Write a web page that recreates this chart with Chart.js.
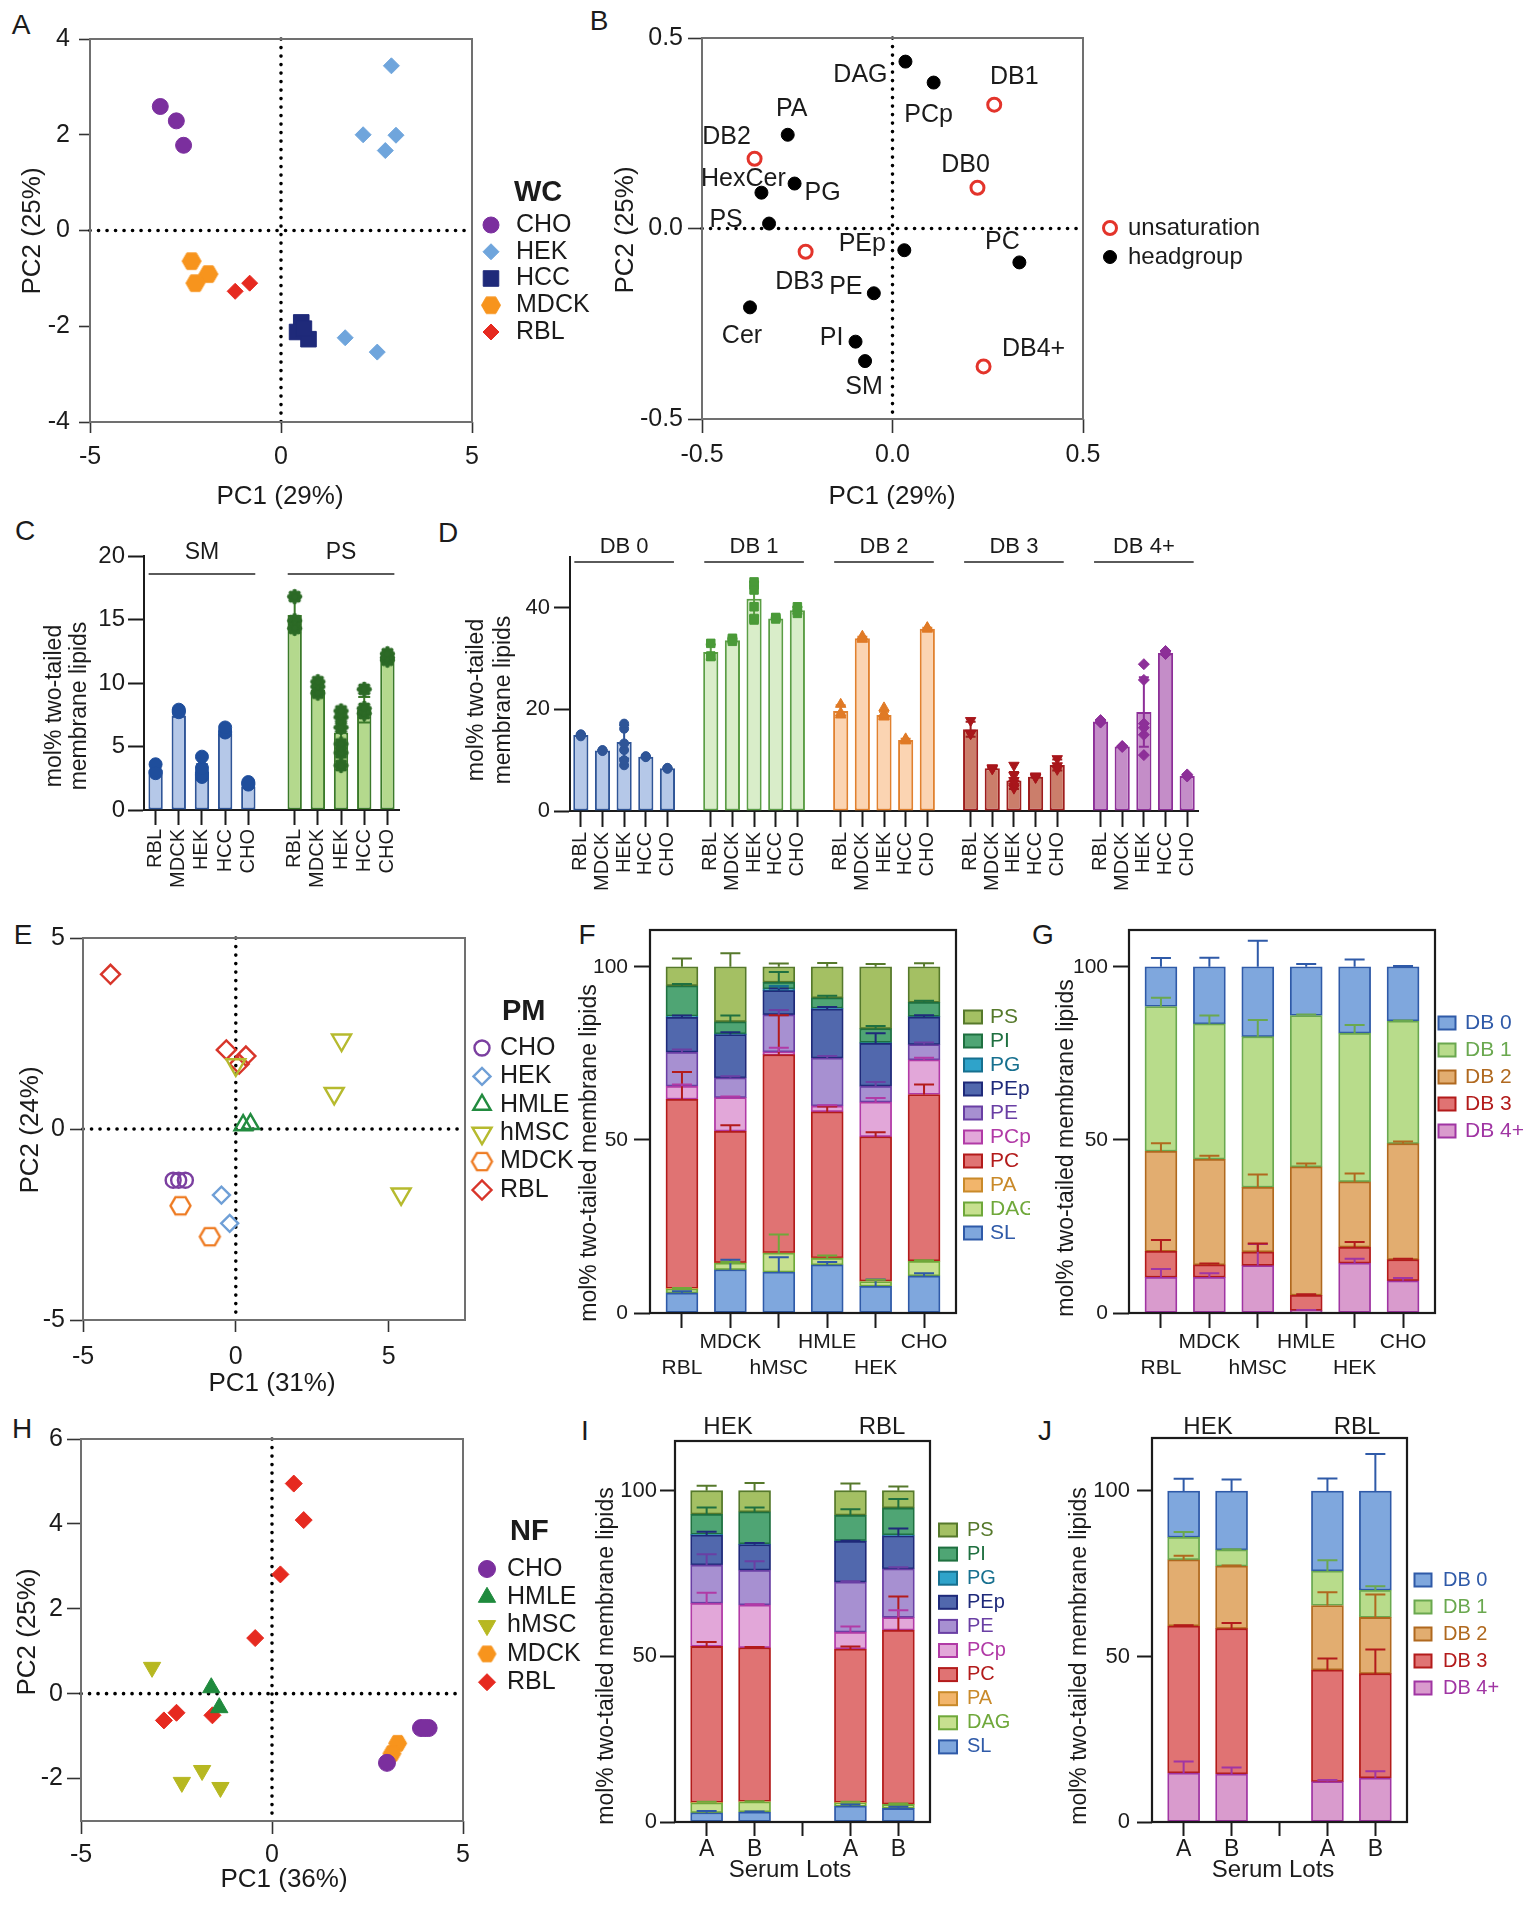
<!DOCTYPE html>
<html>
<head>
<meta charset="utf-8">
<title>Membrane lipidomes</title>
<script src="https://cdn.jsdelivr.net/npm/chart.js@4.4.1/dist/chart.umd.min.js"></script>
<style>
  html, body { margin: 0; background: #fff; }
  #page { position: relative; width: 1529px; height: 1910px; overflow: hidden; background: #fff; }
  #page canvas { position: absolute; }
  .tag { position: absolute; transform: translate(-50%, -50%); font: 28px 'Liberation Sans', Arial, sans-serif; color: #1b1b1b; line-height: 1; }
</style>
</head>
<body>
<div id="page">
  <div class="tag" style="left:21px;top:25px">A</div>
  <div class="tag" style="left:599px;top:21px">B</div>
  <div class="tag" style="left:25px;top:531px">C</div>
  <div class="tag" style="left:448px;top:533px">D</div>
  <div class="tag" style="left:23px;top:935px">E</div>
  <div class="tag" style="left:587px;top:935px">F</div>
  <div class="tag" style="left:1043px;top:935px">G</div>
  <div class="tag" style="left:22px;top:1429px">H</div>
  <div class="tag" style="left:585px;top:1431px">I</div>
  <div class="tag" style="left:1045px;top:1431px">J</div>
</div>
<script>
// ---------------- data ----------------
// A: whole-cell lipidomes, PCA scores [PC1, PC2]
const wcCHO  = [[-3.16, 2.59], [-2.74, 2.29], [-2.55, 1.78]];
const wcHEK  = [[2.89, 3.44], [2.15, 2.00], [3.01, 1.99], [2.73, 1.67], [1.68, -2.24], [2.52, -2.54]];
const wcHCC  = [[0.53, -1.92], [0.42, -2.12], [0.72, -2.27], [0.60, -2.05]];
const wcMDCK = [[-2.34, -0.64], [-1.90, -0.91], [-2.24, -1.10]];
const wcRBL  = [[-1.20, -1.27], [-0.82, -1.10]];
const wcTicksX = [-5, 0, 5];
const wcTicksY = [-4, -2, 0, 2, 4];

// B: loadings
const headNames = ['DAG', 'PCp', 'PA', 'HexCer', 'PG', 'PS', 'PEp', 'PC', 'PE', 'Cer', 'PI', 'SM'];
const headPC1 = [0.034, 0.108, -0.275, -0.344, -0.257, -0.324, 0.031, 0.333, -0.049, -0.374, -0.097, -0.072];
const headPC2 = [0.438, 0.383, 0.246, 0.094, 0.118, 0.013, -0.057, -0.089, -0.170, -0.207, -0.297, -0.348];
const unsatNames = ['DB1', 'DB0', 'DB2', 'DB3', 'DB4+'];
const unsatPC1 = [0.267, 0.223, -0.362, -0.228, 0.239];
const unsatPC2 = [0.325, 0.107, 0.183, -0.061, -0.362];
const loadTicks = [-0.5, 0, 0.5];

// C: SM and PS, mol% two-tailed membrane lipids (bar = mean, dots = replicates)
const cCells = ['RBL', 'MDCK', 'HEK', 'HCC', 'CHO'];
const smMean = [3.15, 7.45, 3.0, 6.05, 1.85];
const smReps = [[2.9, 3.6, 3.0], [7.7, 7.8, 7.9], [4.2, 3.3, 2.8, 3.0, 2.7, 2.6], [6.5, 6.2, 6.1], [2.1, 2.0, 2.2]];
const psMean = [15.35, 9.45, 6.1, 7.9, 11.95];
const psReps = [[16.8, 14.3, 14.9], [10.1, 9.2, 9.7], [7.8, 7.3, 6.5, 5.2, 4.5, 3.5], [9.5, 8.0, 7.6], [12.3, 11.8, 12.0]];
const cTicks = [0, 5, 10, 15, 20];

// D: double bonds per lipid
const dbNames = ['DB 0', 'DB 1', 'DB 2', 'DB 3', 'DB 4+'];
const db0Mean = [14.95, 11.9, 13.6, 10.7, 8.4];
const db0Reps = [[14.7, 15.0, 15.1], [11.8, 12.0, 11.9], [17.2, 16.2, 13.3, 12.0, 10.0, 9.0], [10.6, 10.8, 10.7], [8.3, 8.5, 8.4]];
const db1Mean = [31.3, 33.6, 41.8, 37.9, 39.5];
const db1Reps = [[33.0, 30.4, 30.5], [33.4, 34.0, 33.7], [45.1, 44.5, 43.5, 40.2, 37.9, 37.6], [37.8, 38.0, 38.1], [40.2, 38.9, 39.6]];
const db2Mean = [19.7, 34.0, 18.9, 14.0, 35.9];
const db2Reps = [[21.0, 18.9, 19.3], [34.4, 33.8, 34.0], [20.3, 18.8, 18.6, 19.2, 18.9, 18.5], [14.2, 13.8, 14.0], [36.0, 35.8, 36.1]];
const db3Mean = [16.1, 8.4, 6.0, 6.75, 9.05];
const db3Reps = [[17.8, 15.2, 15.3], [8.5, 8.3, 8.4], [9.0, 7.0, 6.0, 5.5, 4.8, 4.5], [6.9, 6.6, 6.7], [10.3, 8.9, 8.2]];
const db4Mean = [17.6, 12.7, 19.5, 31.1, 6.9];
const db4Reps = [[17.9, 17.4, 17.5], [12.7, 12.6, 12.8], [28.9, 25.8, 17.2, 16.4, 15.0, 11.0], [31.5, 31.0, 30.9], [7.2, 6.8, 6.9]];
const dTicks = [0, 20, 40];

// E: plasma membrane (PM) PCA scores
const pmCHO  = [[-2.05, -1.34], [-1.87, -1.34], [-1.65, -1.34]];
const pmHEK  = [[-0.47, -1.73], [-0.20, -2.47]];
const pmHMLE = [[0.24, 0.10], [0.48, 0.13]];
const pmhMSC = [[3.46, 2.33], [3.22, 0.93], [5.41, -1.70], [0.0, 1.68]];
const pmMDCK = [[-1.81, -2.01], [-0.85, -2.82]];
const pmRBL  = [[-4.10, 4.05], [-0.31, 2.07], [0.33, 1.91], [0.11, 1.70]];
const pmTicks = [-5, 0, 5];

// F: PM headgroup composition, rows bottom -> top
const pmCells = ['RBL', 'MDCK', 'hMSC', 'HMLE', 'HEK', 'CHO'];
const headClasses = ['SL', 'DAG', 'PA', 'PC', 'PCp', 'PE', 'PEp', 'PG', 'PI', 'PS'];
const pmHead = [
  [5.8, 12.5, 11.8, 13.9, 7.7, 10.7],     // SL
  [1.1, 1.9, 5.5, 1.9, 1.4, 4.2],         // DAG
  [0.2, 0.1, 0.1, 0.1, 0.1, 0.1],         // PA
  [54.6, 38.0, 57.2, 42.2, 41.7, 48.1],   // PC
  [3.8, 9.7, 0.8, 1.7, 10.0, 10.0],       // PCp
  [9.8, 5.7, 10.7, 13.8, 4.6, 4.4],       // PE
  [10.1, 12.5, 7.0, 14.2, 12.4, 8.0],     // PEp
  [0.3, 0.2, 0.5, 0.2, 0.2, 0.1],         // PG
  [8.8, 3.5, 1.9, 3.0, 4.0, 4.1],         // PI
  [5.5, 15.9, 4.5, 9.0, 17.9, 10.3]       // PS
];
const pmHeadSd = [
  [0.5, 2.9, 4.3, 0.8, 2.0, 0.8],
  [0.3, 0.3, 5.4, 0.8, 0.5, 0.3],
  [0, 0, 0, 0, 0, 0],
  [7.9, 1.7, 11.4, 1.5, 1.3, 2.9],
  [0.5, 0.3, 1.2, 0.2, 1.2, 0.6],
  [0.8, 0.5, 1.4, 0.6, 1.2, 0.6],
  [0.5, 0.7, 0.6, 0.6, 2.9, 0.5],
  [0, 0, 0.8, 0, 0, 0],
  [0.5, 1.8, 3.0, 0.6, 0.8, 0.5],
  [2.4, 3.9, 0.9, 1.1, 0.8, 1.0]
];

// G: PM unsaturation, rows bottom -> top
const dbStack = ['DB 4+', 'DB 3', 'DB 2', 'DB 1', 'DB 0'];
const pmDb = [
  [10.3, 10.3, 13.7, 0.7, 14.4, 9.3],
  [7.5, 3.6, 3.9, 4.4, 4.6, 6.1],
  [28.9, 30.5, 18.7, 37.1, 18.9, 33.5],
  [41.8, 39.1, 43.5, 43.7, 42.9, 35.4],
  [11.5, 16.5, 20.2, 14.1, 19.2, 15.7]
];
const pmDbSd = [
  [2.4, 1.2, 6.2, 0.2, 1.3, 0.8],
  [3.3, 0.4, 2.5, 0.3, 1.5, 0.3],
  [2.3, 1.0, 3.7, 1.0, 2.4, 0.6],
  [2.5, 2.4, 4.8, 0.3, 2.4, 0.2],
  [2.5, 2.6, 7.5, 0.8, 2.1, 0.2]
];
const stackTicks = [0, 50, 100];

// H: nutrient (NF) PCA scores
const nfCHO  = [[3.01, -1.63], [3.90, -0.81], [4.10, -0.81], [4.00, -0.81]];
const nfHMLE = [[-1.59, 0.14], [-1.38, -0.33]];
const nfhMSC = [[-3.14, 0.62], [-1.83, -1.81], [-2.36, -2.09], [-1.35, -2.21]];
const nfMDCK = [[3.29, -1.17], [3.14, -1.41]];
const nfRBL  = [[0.57, 4.95], [0.83, 4.09], [0.22, 2.81], [-0.44, 1.31], [-2.83, -0.63], [-2.50, -0.45], [-1.56, -0.51]];
const nfTicksX = [-5, 0, 5];
const nfTicksY = [-2, 0, 2, 4, 6];

// I, J: serum lots A/B for HEK and RBL
const lotLabels = ['A', 'B', '', 'A', 'B'];
const lotSlots = [0, 1, 3, 4];
const lotHead = [
  [2.8, 3.0, 4.8, 4.1],
  [3.0, 3.1, 1.0, 1.2],
  [0.1, 0.1, 0.1, 0.1],
  [47.1, 46.4, 46.3, 52.5],
  [13.0, 12.9, 5.1, 3.8],
  [11.6, 10.5, 15.1, 14.7],
  [9.0, 7.7, 12.3, 10.0],
  [0.2, 0.2, 0.2, 0.2],
  [6.1, 9.7, 7.7, 8.2],
  [7.1, 6.4, 7.4, 5.2]
];
const lotHeadSd = [
  [0.5, 0.2, 0.5, 0.5],
  [0.3, 0.2, 0.3, 0.3],
  [0, 0, 0, 0],
  [1.3, 0.2, 0.8, 10.2],
  [3.2, 0.2, 1.7, 2.2],
  [3.2, 2.7, 0.3, 0.5],
  [1.0, 0.5, 0.2, 2.2],
  [0, 0, 0, 0],
  [2.0, 1.3, 1.8, 2.7],
  [1.5, 2.3, 2.2, 1.3]
];
const lotDb = [
  [14.8, 14.5, 12.2, 13.3],
  [44.4, 43.9, 33.7, 31.5],
  [20.0, 18.9, 19.5, 17.0],
  [6.8, 4.9, 10.4, 8.2],
  [14.0, 17.8, 24.2, 30.0]
];
const lotDbSd = [
  [3.5, 2.0, 0.5, 2.0],
  [0.2, 1.7, 3.5, 7.3],
  [1.2, 0.2, 4.0, 6.9],
  [1.6, 0.2, 3.3, 1.2],
  [3.7, 3.5, 3.8, 11.2]
];

// ---------------- styles ----------------
const INK = '#1b1b1b';
const SANS = "'Liberation Sans', Arial, Helvetica, sans-serif";
const UP = -Math.PI / 2;

const headFill = ['#7fa7dd', '#c7e08f', '#f2b56b', '#e07373', '#e2a7d9', '#a790d1', '#5168ad', '#2fa3ca', '#4fa574', '#a4c063'];
const headLine = ['#2f5aa8', '#6fa83a', '#c98a2a', '#b31b1b', '#b13aa6', '#6a3fa4', '#1f2a7a', '#17708f', '#1f7040', '#56792b'];
const dbFill = ['#d99bcd', '#e07373', '#e2ad70', '#b8dc8b', '#7fa7dd'];
const dbLine = ['#a035a3', '#b31b1b', '#b0691f', '#6aa84f', '#2f5aa8'];

// ---------------- helpers ----------------
function hexImage(r, fill, line, lw) {
  const c = document.createElement('canvas');
  const s = Math.ceil(2 * r + lw + 2);
  c.width = c.height = s;
  const g = c.getContext('2d');
  g.translate(s / 2, s / 2);
  g.beginPath();
  for (let k = 0; k < 6; k++) g.lineTo(r * Math.cos(k * Math.PI / 3), r * Math.sin(k * Math.PI / 3));
  g.closePath();
  if (fill) { g.fillStyle = fill; g.fill(); }
  if (line) { g.strokeStyle = line; g.lineWidth = lw; g.stroke(); }
  return c;
}

function gearImage(r, color) {
  const c = document.createElement('canvas');
  const s = Math.ceil(2 * r + 4);
  c.width = c.height = s;
  const g = c.getContext('2d');
  g.translate(s / 2, s / 2);
  g.fillStyle = color;
  g.beginPath(); g.arc(0, 0, r * 0.72, 0, 2 * Math.PI); g.fill();
  for (let k = 0; k < 8; k++) {
    const a = k * Math.PI / 4;
    g.beginPath(); g.arc(Math.cos(a) * r * 0.7, Math.sin(a) * r * 0.7, r * 0.32, 0, 2 * Math.PI); g.fill();
  }
  return c;
}

function makeCanvas(box) {
  const c = document.createElement('canvas');
  c.width = box.w; c.height = box.h;
  c.style.left = box.x + 'px'; c.style.top = box.y + 'px';
  document.getElementById('page').appendChild(c);
  return c;
}

// padding and axis sizes that put the plot area on page coords `area`
function placeArea(box, area) {
  return {
    padding: {left: 0, bottom: 0, top: area.t - box.y, right: box.x + box.w - area.r},
    yw: area.l - box.x,
    xh: box.y + box.h - area.b
  };
}

function baseOptions(lay) {
  return {
    responsive: false, animation: false, devicePixelRatio: 1, events: [],
    layout: {padding: lay.padding, autoPadding: false},
    plugins: {legend: {display: false}, tooltip: {enabled: false}}
  };
}

function linAxis(o, lay, dir) {
  return {
    type: 'linear', min: o.min, max: o.max, stacked: !!o.stacked, offset: false,
    afterBuildTicks: s => { s.ticks = o.ticks.map(v => ({value: v})); },
    afterFit: s => { if (dir === 'x') s.height = lay.xh; else s.width = lay.yw; },
    ticks: {
      autoSkip: false, maxRotation: 0, padding: o.pad, color: INK,
      font: {family: SANS, size: o.size},
      callback: o.fmt || (v => String(v))
    },
    grid: {display: true, drawOnChartArea: false, offset: false, tickLength: o.tick, tickWidth: o.tw || 1.6, tickColor: o.tc || '#333'},
    border: o.border ? {display: true, color: INK, width: 2} : {display: false}
  };
}

function say(ctx, s, x, y, o) {
  ctx.save();
  ctx.font = o.font; ctx.fillStyle = o.color || INK;
  ctx.textAlign = o.align || 'center'; ctx.textBaseline = 'middle';
  ctx.translate(x, y);
  if (o.rot) ctx.rotate(o.rot);
  ctx.fillText(s, 0, 0);
  ctx.restore();
}

function drawMark(ctx, m, x, y) {
  if (typeof m.style === 'object') { ctx.drawImage(m.style, x - m.style.width / 2, y - m.style.height / 2); return; }
  const r = m.r;
  ctx.save();
  ctx.translate(x, y); ctx.rotate((m.rot || 0) * Math.PI / 180);
  ctx.beginPath();
  if (m.style === 'circle') ctx.arc(0, 0, r, 0, 2 * Math.PI);
  else if (m.style === 'rect') { const h = r * Math.SQRT1_2; ctx.rect(-h, -h, 2 * h, 2 * h); }
  else if (m.style === 'rectRot') { ctx.moveTo(-r, 0); ctx.lineTo(0, -r); ctx.lineTo(r, 0); ctx.lineTo(0, r); ctx.closePath(); }
  else if (m.style === 'triangle') {
    for (let k = 0; k < 3; k++) { const a = k * 2 * Math.PI / 3; ctx.lineTo(Math.sin(a) * r, -Math.cos(a) * r); }
    ctx.closePath();
  }
  ctx.fillStyle = m.fill; ctx.fill();
  if (m.bw) { ctx.strokeStyle = m.line; ctx.lineWidth = m.bw; ctx.stroke(); }
  ctx.restore();
}

function sd(a) {
  const m = a.reduce((s, v) => s + v, 0) / a.length;
  return Math.sqrt(a.reduce((s, v) => s + (v - m) * (v - m), 0) / (a.length - 1));
}

// ---------------- plugins ----------------
const textPlugin = (box, items) => ({
  id: 'pageText',
  afterDraw(chart) { items.forEach(t => say(chart.ctx, t.s, t.x - box.x, t.y - box.y, t)); }
});

const framePlugin = (color, width) => ({
  id: 'frame',
  afterDraw(chart) {
    const a = chart.chartArea, ctx = chart.ctx;
    ctx.save(); ctx.strokeStyle = color; ctx.lineWidth = width;
    ctx.strokeRect(a.left, a.top, a.right - a.left, a.bottom - a.top);
    ctx.restore();
  }
});

const zeroPlugin = {
  id: 'zero',
  beforeDatasetsDraw(chart) {
    const {ctx, chartArea: a, scales: {x, y}} = chart;
    const x0 = x.getPixelForValue(0), y0 = y.getPixelForValue(0);
    ctx.save();
    ctx.strokeStyle = '#000'; ctx.lineWidth = 3.6; ctx.lineCap = 'round'; ctx.setLineDash([0.1, 8.4]);
    ctx.beginPath();
    ctx.moveTo(x0, a.top); ctx.lineTo(x0, a.bottom);
    ctx.moveTo(a.left, y0); ctx.lineTo(a.right, y0);
    ctx.stroke();
    ctx.restore();
  }
};

const symbolLegend = (box, lg) => ({
  id: 'symLegend',
  afterDraw(chart) {
    const ctx = chart.ctx;
    if (lg.title) say(ctx, lg.title, lg.titleX - box.x, lg.titleY - box.y, {font: `bold 29px ${SANS}`, align: 'left'});
    lg.items.forEach((it, i) => {
      const y = lg.y0 + i * lg.dy - box.y;
      drawMark(ctx, it, lg.sx - box.x, y);
      say(ctx, it.label, lg.tx - box.x, y, {font: `${lg.size}px ${SANS}`, align: 'left'});
    });
  }
});

const boxLegend = (box, lg) => ({
  id: 'boxLegend',
  afterDraw(chart) {
    const ctx = chart.ctx;
    lg.items.forEach((it, i) => {
      const y = lg.y0 + i * lg.dy - box.y, x = lg.sx - box.x;
      ctx.save();
      ctx.fillStyle = it.fill; ctx.strokeStyle = it.line; ctx.lineWidth = 2;
      ctx.fillRect(x - lg.w / 2, y - lg.h / 2, lg.w, lg.h);
      ctx.strokeRect(x - lg.w / 2, y - lg.h / 2, lg.w, lg.h);
      ctx.restore();
      say(ctx, it.label, lg.tx - box.x, y, {font: `${lg.size}px ${SANS}`, align: 'left', color: it.line});
    });
  }
});

// upward SD whiskers on stacked segments
const stackSdPlugin = cap => ({
  id: 'stackSd',
  afterDatasetsDraw(chart) {
    const ctx = chart.ctx, ys = chart.scales.y;
    chart.data.datasets.forEach((ds, i) => {
      const meta = chart.getDatasetMeta(i);
      meta.data.forEach((bar, j) => {
        const s = ds.sd[j];
        if (!s) return;
        const yy = ys.getPixelForValue(ys.getValueForPixel(bar.y) + s);
        ctx.save(); ctx.strokeStyle = ds.borderColor; ctx.lineWidth = 2;
        ctx.beginPath();
        ctx.moveTo(bar.x, bar.y); ctx.lineTo(bar.x, yy);
        ctx.moveTo(bar.x - cap, yy); ctx.lineTo(bar.x + cap, yy);
        ctx.stroke(); ctx.restore();
      });
    });
  }
});

// symmetric SD of replicates around the bar
const repSdPlugin = cap => ({
  id: 'repSd',
  afterDatasetDraw(chart, args) {
    const ds = chart.data.datasets[args.index];
    if (!ds.reps) return;
    const ys = chart.scales.y, ctx = chart.ctx;
    ds.data.forEach((v, j) => {
      if (v == null || !ds.reps[j]) return;
      const s = sd(ds.reps[j]), x = args.meta.data[j].x;
      const yt = ys.getPixelForValue(v + s), yb = ys.getPixelForValue(v - s);
      ctx.save(); ctx.strokeStyle = ds.borderColor; ctx.lineWidth = 2;
      ctx.beginPath();
      ctx.moveTo(x, yt); ctx.lineTo(x, yb);
      ctx.moveTo(x - cap, yt); ctx.lineTo(x + cap, yt);
      ctx.moveTo(x - cap, yb); ctx.lineTo(x + cap, yb);
      ctx.stroke(); ctx.restore();
    });
  }
});

const groupLabels = (box, names, n, font, textY, lineY) => ({
  id: 'groups',
  afterDraw(chart) {
    const xs = chart.scales.x, ctx = chart.ctx;
    const half = (xs.getPixelForValue(1) - xs.getPixelForValue(0)) / 2;
    names.forEach((nm, g) => {
      const a = xs.getPixelForValue(g * (n + 1)) - half * 0.6;
      const b = xs.getPixelForValue(g * (n + 1) + n - 1) + half * 0.6;
      ctx.save(); ctx.strokeStyle = '#5a5a5a'; ctx.lineWidth = 2;
      ctx.beginPath(); ctx.moveTo(a, lineY - box.y); ctx.lineTo(b, lineY - box.y); ctx.stroke();
      ctx.restore();
      say(ctx, nm, (a + b) / 2, textY - box.y, {font});
    });
  }
});

// ---------------- chart builders ----------------
function pcaChart(box, area, looks, ax, extras) {
  const lay = placeArea(box, area);
  const datasets = looks.map(g => ({
    label: g.label,
    data: g.pts.map(p => ({x: p[0], y: p[1]})),
    pointStyle: g.style, pointRadius: g.r, pointRotation: g.rot || 0,
    pointBackgroundColor: g.fill, pointBorderColor: g.line, pointBorderWidth: g.bw
  }));
  const options = baseOptions(lay);
  options.scales = {x: linAxis(ax.x, lay, 'x'), y: linAxis(ax.y, lay, 'y')};
  return new Chart(makeCanvas(box), {
    type: 'scatter', data: {datasets}, options,
    plugins: [zeroPlugin, framePlugin('#707070', 2), ...extras]
  });
}

function dotBarChart(box, area, cfg) {
  const lay = placeArea(box, area);
  const G = cfg.means.length, N = cfg.cells.length, S = G * (N + 1) - 1;
  const labels = [];
  for (let g = 0; g < G; g++) { if (g) labels.push(''); labels.push(...cfg.cells); }
  const spread = (g, vals) => {
    const out = new Array(S).fill(null);
    vals.forEach((v, i) => { out[g * (N + 1) + i] = v; });
    return out;
  };
  const datasets = cfg.means.map((vals, g) => ({
    type: 'bar', label: cfg.names[g], data: spread(g, vals), reps: spread(g, cfg.reps[g]),
    grouped: false, order: 2, backgroundColor: cfg.fills[g], borderColor: cfg.lines[g],
    borderWidth: 2, borderSkipped: false, barPercentage: cfg.barPct, categoryPercentage: 1
  }));
  const grp = c => Math.max(0, Math.min(G - 1, Math.floor((c.dataIndex || 0) / (N + 1))));
  const maxN = Math.max(...cfg.reps.flat().map(r => r.length));
  for (let k = 0; k < maxN; k++) {
    const data = new Array(S).fill(null);
    cfg.reps.forEach((cells, g) => cells.forEach((r, i) => { if (k < r.length) data[g * (N + 1) + i] = r[k]; }));
    datasets.push({
      type: 'line', data, showLine: false, order: 1,
      pointStyle: c => cfg.marks[grp(c)].style,
      pointRadius: c => cfg.marks[grp(c)].r,
      pointRotation: c => cfg.marks[grp(c)].rot || 0,
      pointBackgroundColor: c => cfg.marks[grp(c)].color,
      pointBorderColor: c => cfg.marks[grp(c)].color,
      pointBorderWidth: 1
    });
  }
  const options = baseOptions(lay);
  options.scales = {
    x: {
      type: 'category', offset: true,
      afterFit: s => { s.height = lay.xh; },
      ticks: {autoSkip: false, minRotation: 90, maxRotation: 90, padding: cfg.xPad, color: INK, font: {family: SANS, size: cfg.xSize}},
      grid: {display: true, drawOnChartArea: false, offset: false, tickLength: cfg.xTick, tickWidth: 2,
        tickColor: c => (c.tick && c.tick.label) ? INK : 'rgba(0,0,0,0)'},
      border: {display: true, color: INK, width: 2}
    },
    y: linAxis({min: 0, max: cfg.max, ticks: cfg.ticks, size: cfg.ySize, pad: cfg.yPad,
      tick: cfg.yTick, tw: 2, tc: INK, border: true}, lay, 'y')
  };
  return new Chart(makeCanvas(box), {
    type: 'bar', data: {labels, datasets}, options,
    plugins: [repSdPlugin(cfg.cap), groupLabels(box, cfg.names, N, cfg.groupFont, cfg.groupTextY, cfg.groupLineY),
      textPlugin(box, cfg.texts)]
  });
}

function stackChart(box, area, cfg) {
  const lay = placeArea(box, area);
  const datasets = cfg.rows.map((vals, k) => ({
    label: cfg.names[k],
    data: vals.map((v, j) => ({x: cfg.slots[j], y: v})),
    sd: cfg.sds[k],
    backgroundColor: cfg.fills[k], borderColor: cfg.lines[k],
    borderWidth: 1.8, borderSkipped: false, barThickness: 32
  }));
  const options = baseOptions(lay);
  const nT = cfg.tickLabels.length;
  options.scales = {
    x: {
      type: 'linear', stacked: true, offset: false, min: -0.66, max: nT - 1 + 0.66,
      afterBuildTicks: s => { s.ticks = cfg.tickLabels.map((_, i) => ({value: i})); },
      afterFit: s => { s.height = lay.xh; },
      ticks: {autoSkip: false, maxRotation: 0, padding: cfg.xPad, color: INK, font: {family: SANS, size: cfg.xSize},
        callback: v => cfg.tickLabels[v]},
      grid: {display: true, drawOnChartArea: false, offset: false, tickLength: cfg.xTick, tickWidth: 2, tickColor: INK},
      border: {display: false}
    },
    y: linAxis({min: 0, max: cfg.max, ticks: stackTicks, size: cfg.ySize, pad: cfg.yPad, tick: cfg.yTick,
      tw: 2, tc: INK, stacked: true}, lay, 'y')
  };
  return new Chart(makeCanvas(box), {
    type: 'bar', data: {datasets}, options,
    plugins: [stackSdPlugin(10), framePlugin(INK, 2.2), textPlugin(box, cfg.texts), boxLegend(box, cfg.legend)]
  });
}

// ---------------- A ----------------
const wcLook = [
  {label: 'CHO', pts: wcCHO, style: 'circle', r: 8, fill: '#7b2f9e', line: '#7b2f9e', bw: 1},
  {label: 'HEK', pts: wcHEK, style: 'rectRot', r: 8, fill: '#6fa5dc', line: '#6fa5dc', bw: 1},
  {label: 'HCC', pts: wcHCC, style: 'rect', r: 11, fill: '#1f2a7a', line: '#1f2a7a', bw: 1},
  {label: 'MDCK', pts: wcMDCK, style: hexImage(9.5, '#f7941d', '#f7941d', 1), r: 9, fill: '#f7941d', line: '#f7941d', bw: 1},
  {label: 'RBL', pts: wcRBL, style: 'rectRot', r: 8, fill: '#e62a20', line: '#e62a20', bw: 1}
];
const boxA = {x: 0, y: 0, w: 640, h: 530};
pcaChart(boxA, {l: 90, t: 39, r: 472, b: 422}, wcLook, {
  x: {min: -5, max: 5, ticks: wcTicksX, size: 25, pad: 9, tick: 11},
  y: {min: -4, max: 4, ticks: wcTicksY, size: 25, pad: 9, tick: 11}
}, [
  textPlugin(boxA, [
    {s: 'PC1 (29%)', x: 280, y: 497, font: `26px ${SANS}`},
    {s: 'PC2 (25%)', x: 33, y: 231, font: `26px ${SANS}`, rot: UP}
  ]),
  symbolLegend(boxA, {title: 'WC', titleX: 514, titleY: 193, sx: 491, tx: 516, y0: 225, dy: 26.75, size: 25, items: wcLook})
]);

// ---------------- B ----------------
const headLabelOffset = [[-45, 13], [-5, 33], [4, -26], [-18, -14], [28, 10], [-43, -3], [-42, -6], [-17, -20], [-28, -6], [-8, 29], [-24, -4], [-1, 26]];
const unsatLabelOffset = [[20, -28], [-12, -23], [-28, -22], [-6, 30], [50, -17]];
const unsatLook = {label: 'unsaturation', style: 'circle', r: 6.5, fill: '#ffffff', line: '#e3342b', bw: 3};
const headLook = {label: 'headgroup', style: 'circle', r: 6.5, fill: '#000000', line: '#000000', bw: 1};
const boxB = {x: 600, y: 0, w: 929, h: 530};
pcaChart(boxB, {l: 702, t: 38, r: 1083, b: 419}, [
  Object.assign({pts: headPC1.map((v, i) => [v, headPC2[i]])}, headLook),
  Object.assign({pts: unsatPC1.map((v, i) => [v, unsatPC2[i]])}, unsatLook)
], {
  x: {min: -0.5, max: 0.5, ticks: loadTicks, size: 25, pad: 7, tick: 14, fmt: v => v.toFixed(1)},
  y: {min: -0.5, max: 0.5, ticks: loadTicks, size: 25, pad: 5, tick: 14, fmt: v => v.toFixed(1)}
}, [
  {
    id: 'ptLabels',
    afterDatasetsDraw(chart) {
      [[0, headNames, headLabelOffset], [1, unsatNames, unsatLabelOffset]].forEach(([di, names, offs]) => {
        chart.getDatasetMeta(di).data.forEach((pt, j) =>
          say(chart.ctx, names[j], pt.x + offs[j][0], pt.y + offs[j][1], {font: `25px ${SANS}`}));
      });
    }
  },
  textPlugin(boxB, [
    {s: 'PC1 (29%)', x: 892, y: 497, font: `26px ${SANS}`},
    {s: 'PC2 (25%)', x: 626, y: 230, font: `26px ${SANS}`, rot: UP}
  ]),
  symbolLegend(boxB, {sx: 1110, tx: 1128, y0: 228, dy: 29, size: 24, items: [unsatLook, headLook]})
]);

// ---------------- C ----------------
const boxC = {x: 0, y: 525, w: 440, h: 378};
dotBarChart(boxC, {l: 144, t: 556, r: 399, b: 810}, {
  cells: cCells, names: ['SM', 'PS'], means: [smMean, psMean], reps: [smReps, psReps],
  fills: ['#b5c8e8', '#b4d98d'], lines: ['#2f5597', '#3b7a2a'],
  marks: [{style: 'circle', r: 6.5, color: '#1f4e9c'}, {style: gearImage(7.5, '#2c6a26'), r: 7, color: '#2c6a26'}],
  barPct: 0.62, cap: 6, max: 20, ticks: cTicks, ySize: 24, yPad: 3, yTick: 16,
  xSize: 20, xPad: 4, xTick: 15,
  groupFont: `23px ${SANS}`, groupTextY: 553, groupLineY: 574,
  texts: [
    {s: 'mol% two-tailed', x: 55, y: 706, font: `23px ${SANS}`, rot: UP},
    {s: 'membrane lipids', x: 80, y: 706, font: `23px ${SANS}`, rot: UP}
  ]
});

// ---------------- D ----------------
const boxD = {x: 440, y: 525, w: 780, h: 378};
dotBarChart(boxD, {l: 570, t: 557, r: 1198, b: 811}, {
  cells: cCells, names: dbNames,
  means: [db0Mean, db1Mean, db2Mean, db3Mean, db4Mean],
  reps: [db0Reps, db1Reps, db2Reps, db3Reps, db4Reps],
  fills: ['#b5c8e8', '#d9edc9', '#fbd4b2', '#cb7e6b', '#c48dc8'],
  lines: ['#2f5597', '#5b9e45', '#e1812f', '#9e1d1d', '#8d2f98'],
  marks: [
    {style: 'circle', r: 4.5, color: '#2f5597'},
    {style: 'rect', r: 6, color: '#4a9a38'},
    {style: 'triangle', r: 6, color: '#e07a26'},
    {style: 'triangle', r: 6, rot: 180, color: '#a8161b'},
    {style: 'rectRot', r: 5.5, color: '#8d2f98'}
  ],
  barPct: 0.7, cap: 5, max: 50, ticks: dTicks, ySize: 22, yPad: 4, yTick: 16,
  xSize: 20, xPad: 5, xTick: 16,
  groupFont: `22px ${SANS}`, groupTextY: 547, groupLineY: 562,
  texts: [
    {s: 'mol% two-tailed', x: 477, y: 700, font: `23px ${SANS}`, rot: UP},
    {s: 'membrane lipids', x: 504, y: 700, font: `23px ${SANS}`, rot: UP}
  ]
});

// ---------------- E ----------------
const pmLook = [
  {label: 'CHO', pts: pmCHO, style: 'circle', r: 7.5, fill: 'rgba(0,0,0,0)', line: '#7b3fa0', bw: 2.4},
  {label: 'HEK', pts: pmHEK, style: 'rectRot', r: 8.5, fill: 'rgba(0,0,0,0)', line: '#6f9fd6', bw: 2.4},
  {label: 'HMLE', pts: pmHMLE, style: 'triangle', r: 10, fill: 'rgba(0,0,0,0)', line: '#228b3f', bw: 2.4},
  {label: 'hMSC', pts: pmhMSC, style: 'triangle', rot: 180, r: 11, fill: 'rgba(0,0,0,0)', line: '#b6ba2e', bw: 2.4},
  {label: 'MDCK', pts: pmMDCK, style: hexImage(10, null, '#ee7b22', 2.4), r: 10, fill: 'rgba(0,0,0,0)', line: '#ee7b22', bw: 2.4},
  {label: 'RBL', pts: pmRBL, style: 'rectRot', r: 9.5, fill: 'rgba(0,0,0,0)', line: '#d8352a', bw: 2.4}
];
const boxE = {x: 0, y: 905, w: 620, h: 495};
pcaChart(boxE, {l: 83, t: 938, r: 465, b: 1320}, pmLook, {
  x: {min: -5, max: 7.5, ticks: pmTicks, size: 25, pad: 10, tick: 12},
  y: {min: -5, max: 5, ticks: pmTicks, size: 25, pad: 5, tick: 13}
}, [
  textPlugin(boxE, [
    {s: 'PC1 (31%)', x: 272, y: 1384, font: `26px ${SANS}`},
    {s: 'PC2 (24%)', x: 31, y: 1130, font: `26px ${SANS}`, rot: UP}
  ]),
  symbolLegend(boxE, {title: 'PM', titleX: 502, titleY: 1012, sx: 482, tx: 500, y0: 1048, dy: 28.4, size: 25, items: pmLook})
]);

// ---------------- F ----------------
const boxF = {x: 560, y: 903, w: 470, h: 480};
const pmStagger = pmCells.map((c, i) => i % 2 ? [c, ''] : ['', c]);
stackChart(boxF, {l: 650, t: 930, r: 956, b: 1313}, {
  rows: pmHead, sds: pmHeadSd, names: headClasses, fills: headFill, lines: headLine,
  slots: [0, 1, 2, 3, 4, 5], tickLabels: pmStagger, max: 110.6,
  xSize: 21, xPad: 2, xTick: 15, ySize: 21, yPad: 6, yTick: 16,
  texts: [{s: 'mol% two-tailed membrane lipids', x: 590, y: 1153, font: `23px ${SANS}`, rot: UP}],
  legend: {sx: 973, tx: 990, y0: 1017, dy: 24, w: 18, h: 13, size: 21,
    items: headClasses.map((n, k) => ({label: n, fill: headFill[k], line: headLine[k]})).reverse()}
});

// ---------------- G ----------------
const boxG = {x: 1030, y: 903, w: 499, h: 480};
stackChart(boxG, {l: 1129, t: 930, r: 1435, b: 1313}, {
  rows: pmDb, sds: pmDbSd, names: dbStack, fills: dbFill, lines: dbLine,
  slots: [0, 1, 2, 3, 4, 5], tickLabels: pmStagger, max: 110.6,
  xSize: 21, xPad: 2, xTick: 15, ySize: 21, yPad: 5, yTick: 16,
  texts: [{s: 'mol% two-tailed membrane lipids', x: 1067, y: 1148, font: `23px ${SANS}`, rot: UP}],
  legend: {sx: 1447, tx: 1465, y0: 1023, dy: 27, w: 17, h: 13, size: 21,
    items: dbStack.map((n, k) => ({label: n, fill: dbFill[k], line: dbLine[k]})).reverse()}
});

// ---------------- H ----------------
const nfLook = [
  {label: 'CHO', pts: nfCHO, style: 'circle', r: 8.5, fill: '#7b2f9e', line: '#7b2f9e', bw: 1},
  {label: 'HMLE', pts: nfHMLE, style: 'triangle', r: 10, fill: '#1f8a3d', line: '#1f8a3d', bw: 1},
  {label: 'hMSC', pts: nfhMSC, style: 'triangle', rot: 180, r: 10, fill: '#b7b821', line: '#b7b821', bw: 1},
  {label: 'MDCK', pts: nfMDCK, style: hexImage(9, '#f7941d', '#f7941d', 1), r: 9, fill: '#f7941d', line: '#f7941d', bw: 1},
  {label: 'RBL', pts: nfRBL, style: 'rectRot', r: 8.5, fill: '#e62a20', line: '#e62a20', bw: 1}
];
const boxH = {x: 0, y: 1400, w: 620, h: 510};
pcaChart(boxH, {l: 81, t: 1439, r: 463, b: 1821}, nfLook, {
  x: {min: -5, max: 5, ticks: nfTicksX, size: 25, pad: 6, tick: 13},
  y: {min: -3, max: 6, ticks: nfTicksY, size: 25, pad: 4, tick: 14}
}, [
  textPlugin(boxH, [
    {s: 'PC1 (36%)', x: 284, y: 1880, font: `26px ${SANS}`},
    {s: 'PC2 (25%)', x: 28, y: 1632, font: `26px ${SANS}`, rot: UP}
  ]),
  symbolLegend(boxH, {title: 'NF', titleX: 510, titleY: 1532, sx: 487, tx: 507, y0: 1569, dy: 28.3, size: 25, items: nfLook})
]);

// ---------------- I ----------------
const boxI = {x: 560, y: 1400, w: 470, h: 510};
stackChart(boxI, {l: 675, t: 1441, r: 930, b: 1822}, {
  rows: lotHead, sds: lotHeadSd, names: headClasses, fills: headFill, lines: headLine,
  slots: lotSlots, tickLabels: lotLabels, max: 115,
  xSize: 23, xPad: 0, xTick: 14, ySize: 22, yPad: 3, yTick: 15,
  texts: [
    {s: 'mol% two-tailed membrane lipids', x: 607, y: 1656, font: `23px ${SANS}`, rot: UP},
    {s: 'HEK', x: 728, y: 1427, font: `24px ${SANS}`},
    {s: 'RBL', x: 882, y: 1427, font: `24px ${SANS}`},
    {s: 'Serum Lots', x: 790, y: 1870, font: `24px ${SANS}`}
  ],
  legend: {sx: 948, tx: 967, y0: 1530, dy: 24.1, w: 18, h: 13, size: 20,
    items: headClasses.map((n, k) => ({label: n, fill: headFill[k], line: headLine[k]})).reverse()}
});

// ---------------- J ----------------
const boxJ = {x: 1030, y: 1400, w: 499, h: 510};
stackChart(boxJ, {l: 1152, t: 1438, r: 1407, b: 1822}, {
  rows: lotDb, sds: lotDbSd, names: dbStack, fills: dbFill, lines: dbLine,
  slots: lotSlots, tickLabels: lotLabels, max: 116,
  xSize: 23, xPad: 0, xTick: 14, ySize: 22, yPad: 7, yTick: 15,
  texts: [
    {s: 'mol% two-tailed membrane lipids', x: 1080, y: 1656, font: `23px ${SANS}`, rot: UP},
    {s: 'HEK', x: 1208, y: 1427, font: `24px ${SANS}`},
    {s: 'RBL', x: 1357, y: 1427, font: `24px ${SANS}`},
    {s: 'Serum Lots', x: 1273, y: 1870, font: `24px ${SANS}`}
  ],
  legend: {sx: 1423, tx: 1443, y0: 1580, dy: 27, w: 17, h: 13, size: 20,
    items: dbStack.map((n, k) => ({label: n, fill: dbFill[k], line: dbLine[k]})).reverse()}
});
</script>
</body>
</html>
